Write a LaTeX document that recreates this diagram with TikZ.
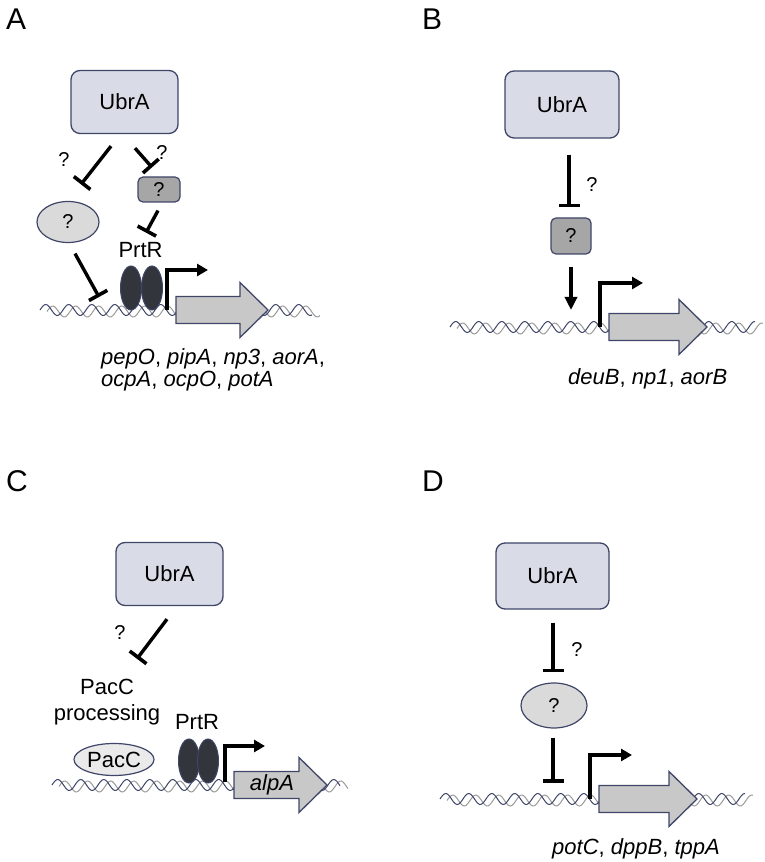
\documentclass[tikz,border=0pt]{standalone}
\usepackage{fontspec}
\setmainfont{Liberation Sans}
\usetikzlibrary{arrows.meta,positioning,shapes.geometric}

\definecolor{boxfill}{HTML}{D9DCE6}
\definecolor{edge}{HTML}{3F4668}
\definecolor{qfill}{HTML}{A6A6A6}
\definecolor{ellfill}{HTML}{DADADA}
\definecolor{prtfill}{HTML}{32353C}
\definecolor{genefill}{HTML}{C8C8C8}
\definecolor{strandgrey}{HTML}{9A9A9A}
\definecolor{pacfill}{HTML}{EAEAEA}

% DNA double strand: x start, x end, y centre
\newcommand{\dnahelix}[3]{%
  \draw[strandgrey, line width=1pt] plot[domain=#1+7:#2, samples=180, smooth] (\x,{#3-1.5+5.5*sin((\x-#1-7)/23*360)});
  \draw[edge, line width=1pt] plot[domain=#1:#2-8, samples=180, smooth] (\x,{#3+5.5*sin((\x-#1)/23*360)});
}
% gene arrow: left x, y centre, tip x
\newcommand{\genearrow}[3]{%
  \filldraw[fill=genefill, draw=edge, line width=1.3pt, line join=miter]
    (#1,#2+13.5) -- (#3-28,#2+13.5) -- (#3-28,#2+27.5) -- (#3,#2)
    -- (#3-28,#2-27.5) -- (#3-28,#2-13.5) -- (#1,#2-13.5) -- cycle;
}

\begin{document}
\begin{tikzpicture}[
    x=1pt, y=1pt,
    ubr/.style={rectangle, rounded corners=9pt, draw=edge, fill=boxfill, line width=1.3pt,
      inner sep=0pt, minimum width=107pt, minimum height=63pt, font=\fontsize{22}{26}\selectfont},
    qbox/.style={rectangle, rounded corners=5pt, draw=edge, fill=qfill, line width=1.2pt,
      inner sep=0pt, font=\fontsize{20}{24}\selectfont},
    qell/.style={ellipse, draw=edge, fill=ellfill, line width=1.2pt, inner sep=0pt,
      font=\fontsize{20}{24}\selectfont},
    prt/.style={ellipse, draw=edge, fill=prtfill, line width=1pt, inner sep=0pt,
      minimum width=21pt, minimum height=44pt},
    inh/.style={line width=3.4pt, -{Bar[width=21pt, line width=3.6pt]}},
    act/.style={line width=3.4pt, -{Triangle[width=12pt, length=13pt]}},
    prom/.style={line width=3.4pt, line join=miter, -{Triangle[width=12pt, length=11pt]}},
    lbl/.style={font=\fontsize{30}{36}\selectfont, inner sep=0pt, anchor=base west},
    qm/.style={font=\fontsize{20}{24}\selectfont, inner sep=0pt},
    txt/.style={font=\fontsize{22}{26}\selectfont, inner sep=0pt},
    genes/.style={font=\fontsize{22}{26}\selectfont\itshape, inner sep=0pt, anchor=base west}
  ]
\useasboundingbox (0,0) rectangle (765,862);

% ---------------- A ----------------
\node[lbl] (labA) at (6,832) {A};
\dnahelix{40}{320}{552}
\node[prt] (prtA1) at (131,574) {};
\node[prt] (prtA2) at (152,574) {};
\genearrow{176}{552}{268}
\coordinate (tssA) at (167,552);
\draw[prom] (tssA) |- (208,592);

\node[ubr] (ubrA) at (124.5,760) {UbrA};
\node[qell, minimum width=62pt, minimum height=41pt] (qA) at (68,640) {?};
\node[qbox, minimum width=42pt, minimum height=25pt] (qboxA) at (159,672.5) {?};
\node[txt, anchor=base] (prtlabA) at (140.5,604) {PrtR};

\draw[inh] ([shift={(-13.5,-12)}]ubrA.south) -- ([shift={(13,16.5)}]qA.north);
\draw[inh] ([shift={(10.5,-14)}]ubrA.south) -- ([shift={(-7,9)}]qboxA.north);
\draw[inh] ([shift={(-1,-8)}]qboxA.south) -- ([shift={(5.5,10)}]prtlabA.north);
\draw[inh] ([shift={(7,-10.5)}]qA.south) -- (99,565);
\node[qm] (qmA1) at (64,702) {?};
\node[qm] (qmA2) at (162,709) {?};

\node[genes] (genesA1) at (101,497) {pepO\upshape, \itshape pipA\upshape, \itshape np3\upshape, \itshape aorA\upshape,};
\node[genes] (genesA2) at (101,475) {ocpA\upshape, \itshape ocpO\upshape, \itshape potA};

% ---------------- B ----------------
\node[lbl] (labB) at (422,832) {B};
\dnahelix{450}{763}{535}
\genearrow{609}{535}{707}
\coordinate (tssB) at (600,535);
\draw[prom] (tssB) |- (643,579);

\node[ubr, minimum width=114pt, minimum height=67pt] (ubrB) at (562,757.5) {UbrA};
\node[qbox, minimum width=40pt, minimum height=36pt] (qboxB) at (571,626) {?};
\draw[inh] ([shift={(7,-16)}]ubrB.south) -- ([shift={(-2,10)}]qboxB.north);
\draw[act] ([shift={(0,-12)}]qboxB.south) -- ([shift={(0,17)}]tssB -| qboxB.south);
\node[qm] (qmB) at (592,677) {?};

\node[genes] (genesB) at (568,477) {deuB\upshape, \itshape np1\upshape, \itshape aorB};

% ---------------- C ----------------
\node[lbl] (labC) at (6,370) {C};
\dnahelix{52}{348}{77}
\node[prt] (prtC1) at (189,101) {};
\node[prt] (prtC2) at (208,101) {};
\genearrow{234}{77}{327}
\node[font=\fontsize{22}{26}\selectfont\itshape, inner sep=0pt] (alpA) at (272,77) {alpA};
\coordinate (tssC) at (225,80);
\draw[prom] (tssC) |- (265,116);
\node[qell, fill=pacfill, minimum width=80pt, minimum height=32pt, font=\fontsize{22}{26}\selectfont] (pacC) at (114,102.5) {PacC};

\node[ubr] (ubrC) at (169.5,288) {UbrA};
\node[txt, align=center] (pacproc) at (107,160) {PacC\\processing};
\node[txt, anchor=base] (prtlabC) at (197,132) {PrtR};
\draw[inh] ([shift={(-2.5,-13)}]ubrC.south) -- ([shift={(30,20)}]pacproc.north);
\node[qm] (qmC) at (120,229) {?};

% ---------------- D ----------------
\node[lbl] (labD) at (422,370) {D};
\dnahelix{440}{753}{63}
\genearrow{599}{63}{697}
\coordinate (tssD) at (590,63);
\draw[prom] (tssD) |- (632,107);

\node[ubr, minimum width=113pt, minimum height=66pt] (ubrD) at (552.5,286) {UbrA};
\node[qell, minimum width=66pt, minimum height=45pt] (qD) at (554,156.5) {?};
\draw[inh] ([shift={(0.5,-13)}]ubrD.south) -- ([shift={(-1,10)}]qD.north);
\draw[inh] ([shift={(-1,-9)}]qD.south) -- ([shift={(-1,16)}]tssD -| qD.south);
\node[qm] (qmD) at (577,212) {?};

\node[genes] (genesD) at (552,8) {potC\upshape, \itshape dppB\upshape, \itshape tppA};
\end{tikzpicture}
\end{document}
